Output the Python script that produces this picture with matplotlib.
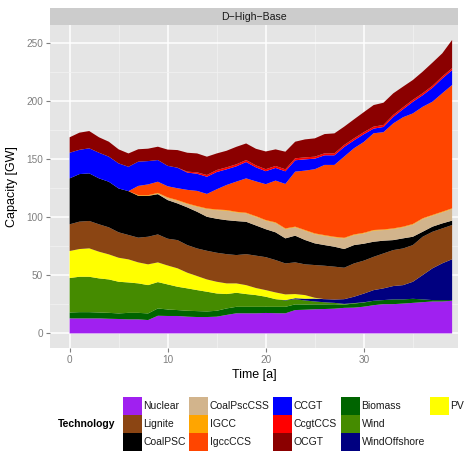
import matplotlib
matplotlib.use("Agg")
import matplotlib.pyplot as plt
import numpy as np
from matplotlib.patches import Rectangle

plt.rcParams['font.family'] = ['Liberation Sans', 'DejaVu Sans']

# installed capacity per technology, GW, years 0..39
years = np.arange(40)

nuclear = [12.9, 12.9, 12.9, 12.9, 12.6, 12.4, 12.1, 12.1, 11.5, 15.2,
           15.0, 15.0, 14.4, 14.1, 14.1, 14.4, 15.9, 17.3, 17.3, 17.3,
           17.6, 17.4, 17.3, 20.1, 20.4, 20.8, 21.0, 21.3, 22.0, 22.2,
           23.0, 24.3, 25.2, 25.2, 25.7, 26.3, 26.9, 27.5, 27.5, 28.1]
biomass = [5.1, 5.4, 5.4, 5.1, 5.1, 4.8, 5.6, 5.6, 5.7, 6.3,
           5.6, 5.1, 5.1, 5.1, 4.8, 5.1, 5.6, 5.6, 5.6, 5.6,
           5.3, 5.5, 5.6, 4.9, 4.5, 4.2, 4.0, 3.8, 2.8, 3.5,
           3.6, 3.8, 3.5, 4.1, 3.6, 3.5, 2.4, 1.2, 1.2, 0.6]
wind = [29.7, 30.5, 30.5, 29.4, 28.8, 27.3, 26.2, 25.4, 24.4, 22.7,
        21.6, 20.1, 19.3, 18.1, 17.0, 14.9, 12.4, 12.1, 11.0, 10.1,
        8.7, 6.6, 5.5, 4.5, 3.5, 2.5, 1.8, 1.2, 0.6, 0.4,
        0.2, 0, 0, 0, 0, 0, 0, 0, 0, 0]
wind_offshore = [0, 0, 0, 0, 0, 0, 0, 0, 0, 0,
                 0, 0, 0, 0, 0, 0, 0, 0, 0, 0,
                 0, 0, 0.3, 0.8, 1.5, 2.5, 2.7, 2.9, 4.1, 5.5,
                 7.5, 9.2, 10.1, 11.5, 12.3, 14.7, 21.0, 27.4, 31.7, 35.2]
pv = [23.3, 23.9, 24.5, 23.0, 21.6, 20.7, 19.9, 18.1, 17.9, 17.0,
      16.3, 15.9, 13.5, 12.1, 10.6, 10.1, 9.2, 8.1, 7.7, 6.1,
      5.7, 5.8, 4.9, 3.6, 3.1, 0.7, 0, 0, 0, 0,
      0, 0, 0, 0, 0, 0, 0, 0, 0, 0]
lignite = [23.0, 23.6, 23.6, 23.6, 23.3, 21.9, 21.0, 21.3, 23.8, 24.1,
           23.1, 24.3, 23.8, 23.8, 24.7, 25.0, 25.2, 24.4, 26.7, 27.9,
           28.4, 27.9, 26.7, 27.3, 26.5, 28.2, 28.8, 28.3, 27.1, 28.7,
           28.4, 28.7, 30.1, 31.0, 31.6, 31.6, 33.0, 31.5, 30.1, 29.5]
coal_psc = [39.6, 41.0, 41.0, 39.6, 39.3, 37.8, 37.8, 36.1, 35.2, 34.7,
            33.3, 31.6, 32.5, 31.6, 29.3, 29.3, 29.3, 29.3, 27.9, 26.0,
            24.1, 23.9, 21.6, 23.0, 21.0, 18.7, 17.8, 17.2, 16.1, 15.8,
            14.6, 13.0, 11.0, 8.6, 8.7, 7.2, 4.3, 4.4, 4.3, 3.8]
coal_psc_css = [0, 0, 0, 0, 0, 0, 0, 0, 0, 0.5,
                1.7, 2.3, 2.8, 4.3, 6.6, 7.4, 8.1, 7.4, 7.2, 7.4,
                7.3, 8.0, 8.0, 7.2, 8.0, 8.0, 8.0, 8.0, 9.1, 8.6,
                8.8, 9.5, 9.1, 9.5, 9.5, 10.4, 11.0, 9.5, 9.5, 10.0]
igcc = [0, 0, 0, 0, 0, 0, 0, 0.6, 0.6, 0.6,
        0.6, 0.6, 0.6, 0.6, 0.6, 0.6, 0.6, 0.6, 0.6, 0.6,
        0.6, 0.6, 0.6, 0.6, 0.6, 0.6, 0.6, 0.6, 0.6, 0.6,
        0.6, 0.6, 0.6, 0.6, 0.6, 0.6, 0.6, 0.6, 0.6, 0.6]
igcc_ccs = [0, 0, 0, 0, 0, 0, 0, 7.9, 9.3, 9.6,
            9.6, 10.2, 11.7, 13.1, 12.5, 17.4, 21.6, 26.0, 29.6, 30.0,
            30.9, 36.0, 38.3, 47.4, 51.2, 55.3, 60.5, 61.9, 70.0, 74.3,
            78.3, 83.4, 83.8, 90.5, 94.3, 95.3, 96.1, 97.6, 102.1, 106.3]
ccgt = [22.1, 20.9, 21.6, 22.1, 21.6, 21.6, 21.0, 20.9, 20.1, 18.7,
        17.6, 17.7, 14.9, 14.8, 14.8, 14.9, 13.5, 13.2, 14.1, 12.1,
        11.2, 10.9, 10.9, 9.8, 9.7, 9.1, 8.3, 8.3, 8.3, 6.8,
        6.7, 4.0, 4.5, 5.6, 6.9, 10.0, 10.0, 12.0, 12.7, 12.8]
ccgt_ccs = [0, 0, 0, 0, 0, 0, 0, 0, 0, 0,
            0, 0, 0.8, 1.2, 1.5, 1.7, 1.7, 1.7, 1.7, 1.7,
            1.7, 1.7, 1.7, 1.7, 1.7, 1.7, 1.7, 1.7, 1.7, 1.7,
            1.7, 1.7, 1.7, 1.7, 1.7, 1.7, 1.7, 1.7, 1.7, 1.7]
ocgt = [13.3, 14.8, 14.9, 13.3, 12.9, 12.1, 11.5, 10.7, 10.7, 11.5,
        14.0, 15.2, 16.3, 16.3, 15.8, 14.3, 14.3, 15.1, 14.3, 14.3,
        15.3, 14.3, 15.2, 14.3, 15.5, 15.8, 16.6, 17.2, 15.8, 16.4,
        17.3, 18.6, 19.2, 18.6, 17.8, 17.1, 18.6, 20.0, 20.0, 24.3]

colours = {
    'Nuclear': '#A020F0', 'Lignite': '#8B4513', 'CoalPSC': '#000000',
    'CoalPscCSS': '#D2B48C', 'IGCC': '#FFA500', 'IgccCCS': '#FF4500',
    'CCGT': '#0000FF', 'CcgtCCS': '#FF0000', 'OCGT': '#8B0000',
    'Biomass': '#006400', 'Wind': '#458B00', 'WindOffshore': '#000080',
    'PV': '#FFFF00',
}

# bottom to top
stack = [('Nuclear', nuclear), ('Biomass', biomass), ('Wind', wind),
         ('WindOffshore', wind_offshore), ('PV', pv), ('Lignite', lignite),
         ('CoalPSC', coal_psc), ('CoalPscCSS', coal_psc_css), ('IGCC', igcc),
         ('IgccCCS', igcc_ccs), ('CCGT', ccgt), ('CcgtCCS', ccgt_ccs),
         ('OCGT', ocgt)]

legend_cols = [['Nuclear', 'Lignite', 'CoalPSC'],
               ['CoalPscCSS', 'IGCC', 'IgccCCS'],
               ['CCGT', 'CcgtCCS', 'OCGT'],
               ['Biomass', 'Wind', 'WindOffshore'],
               ['PV']]

W, H = 465, 454
fig = plt.figure(figsize=(W / 100, H / 100), dpi=100)


def fx(px):
    return px / W


def fy(py):
    return 1 - py / H


ax = fig.add_axes([fx(50), fy(348), fx(458) - fx(50), fy(25) - fy(348)])
ax.set_facecolor('#E5E5E5')
ax.stackplot(years, *[s for _, s in stack],
             colors=[colours[n] for n, _ in stack], linewidth=0)

ax.set_xlim(-2.0, 39.6)
ax.set_ylim(-12.6, 265.8)
ax.set_xticks([0, 10, 20, 30])
ax.set_xticks([5, 15, 25, 35], minor=True)
ax.set_yticks([0, 50, 100, 150, 200, 250])
ax.set_yticks([25, 75, 125, 175, 225], minor=True)
ax.grid(which='major', color='white', linewidth=1.1)
ax.grid(which='minor', color='#F2F2F2', linewidth=0.5)
ax.set_axisbelow(True)
for sp in ax.spines.values():
    sp.set_visible(False)
ax.tick_params(which='major', length=3, width=0.8, color='#7F7F7F',
               labelcolor='#7F7F7F', labelsize=7.2, pad=2)
ax.tick_params(which='minor', length=0)
ax.set_xlabel('Time [a]', fontsize=9, labelpad=3)
ax.set_ylabel('Capacity [GW]', fontsize=9, labelpad=6)

# facet strip
strip = fig.add_axes([fx(50), fy(25), fx(458) - fx(50), fy(8) - fy(25)])
strip.set_facecolor('#CCCCCC')
strip.set_xticks([])
strip.set_yticks([])
for sp in strip.spines.values():
    sp.set_visible(False)
strip.text(0.5, 0.5, 'D\u2212High\u2212Base', ha='center', va='center',
           fontsize=7.6, color='#1A1A1A', transform=strip.transAxes)

# legend
key_x = [123, 189, 273, 341, 430]
key_top = [397, 415, 433]
key_w, key_h = 19, 18
fig.text(fx(115), fy(424), 'Technology', ha='right', va='center',
         fontsize=7.5, fontweight='bold')
for c, names in enumerate(legend_cols):
    for r, name in enumerate(names):
        fig.add_artist(Rectangle((fx(key_x[c]), fy(key_top[r] + key_h)),
                                 key_w / W, key_h / H,
                                 transform=fig.transFigure,
                                 facecolor=colours[name], edgecolor='none'))
        fig.text(fx(key_x[c] + key_w + 1.5), fy(key_top[r] + key_h / 2), name,
                 ha='left', va='center', fontsize=7.5, color='#1A1A1A')

fig.savefig('out.png', dpi=100)
